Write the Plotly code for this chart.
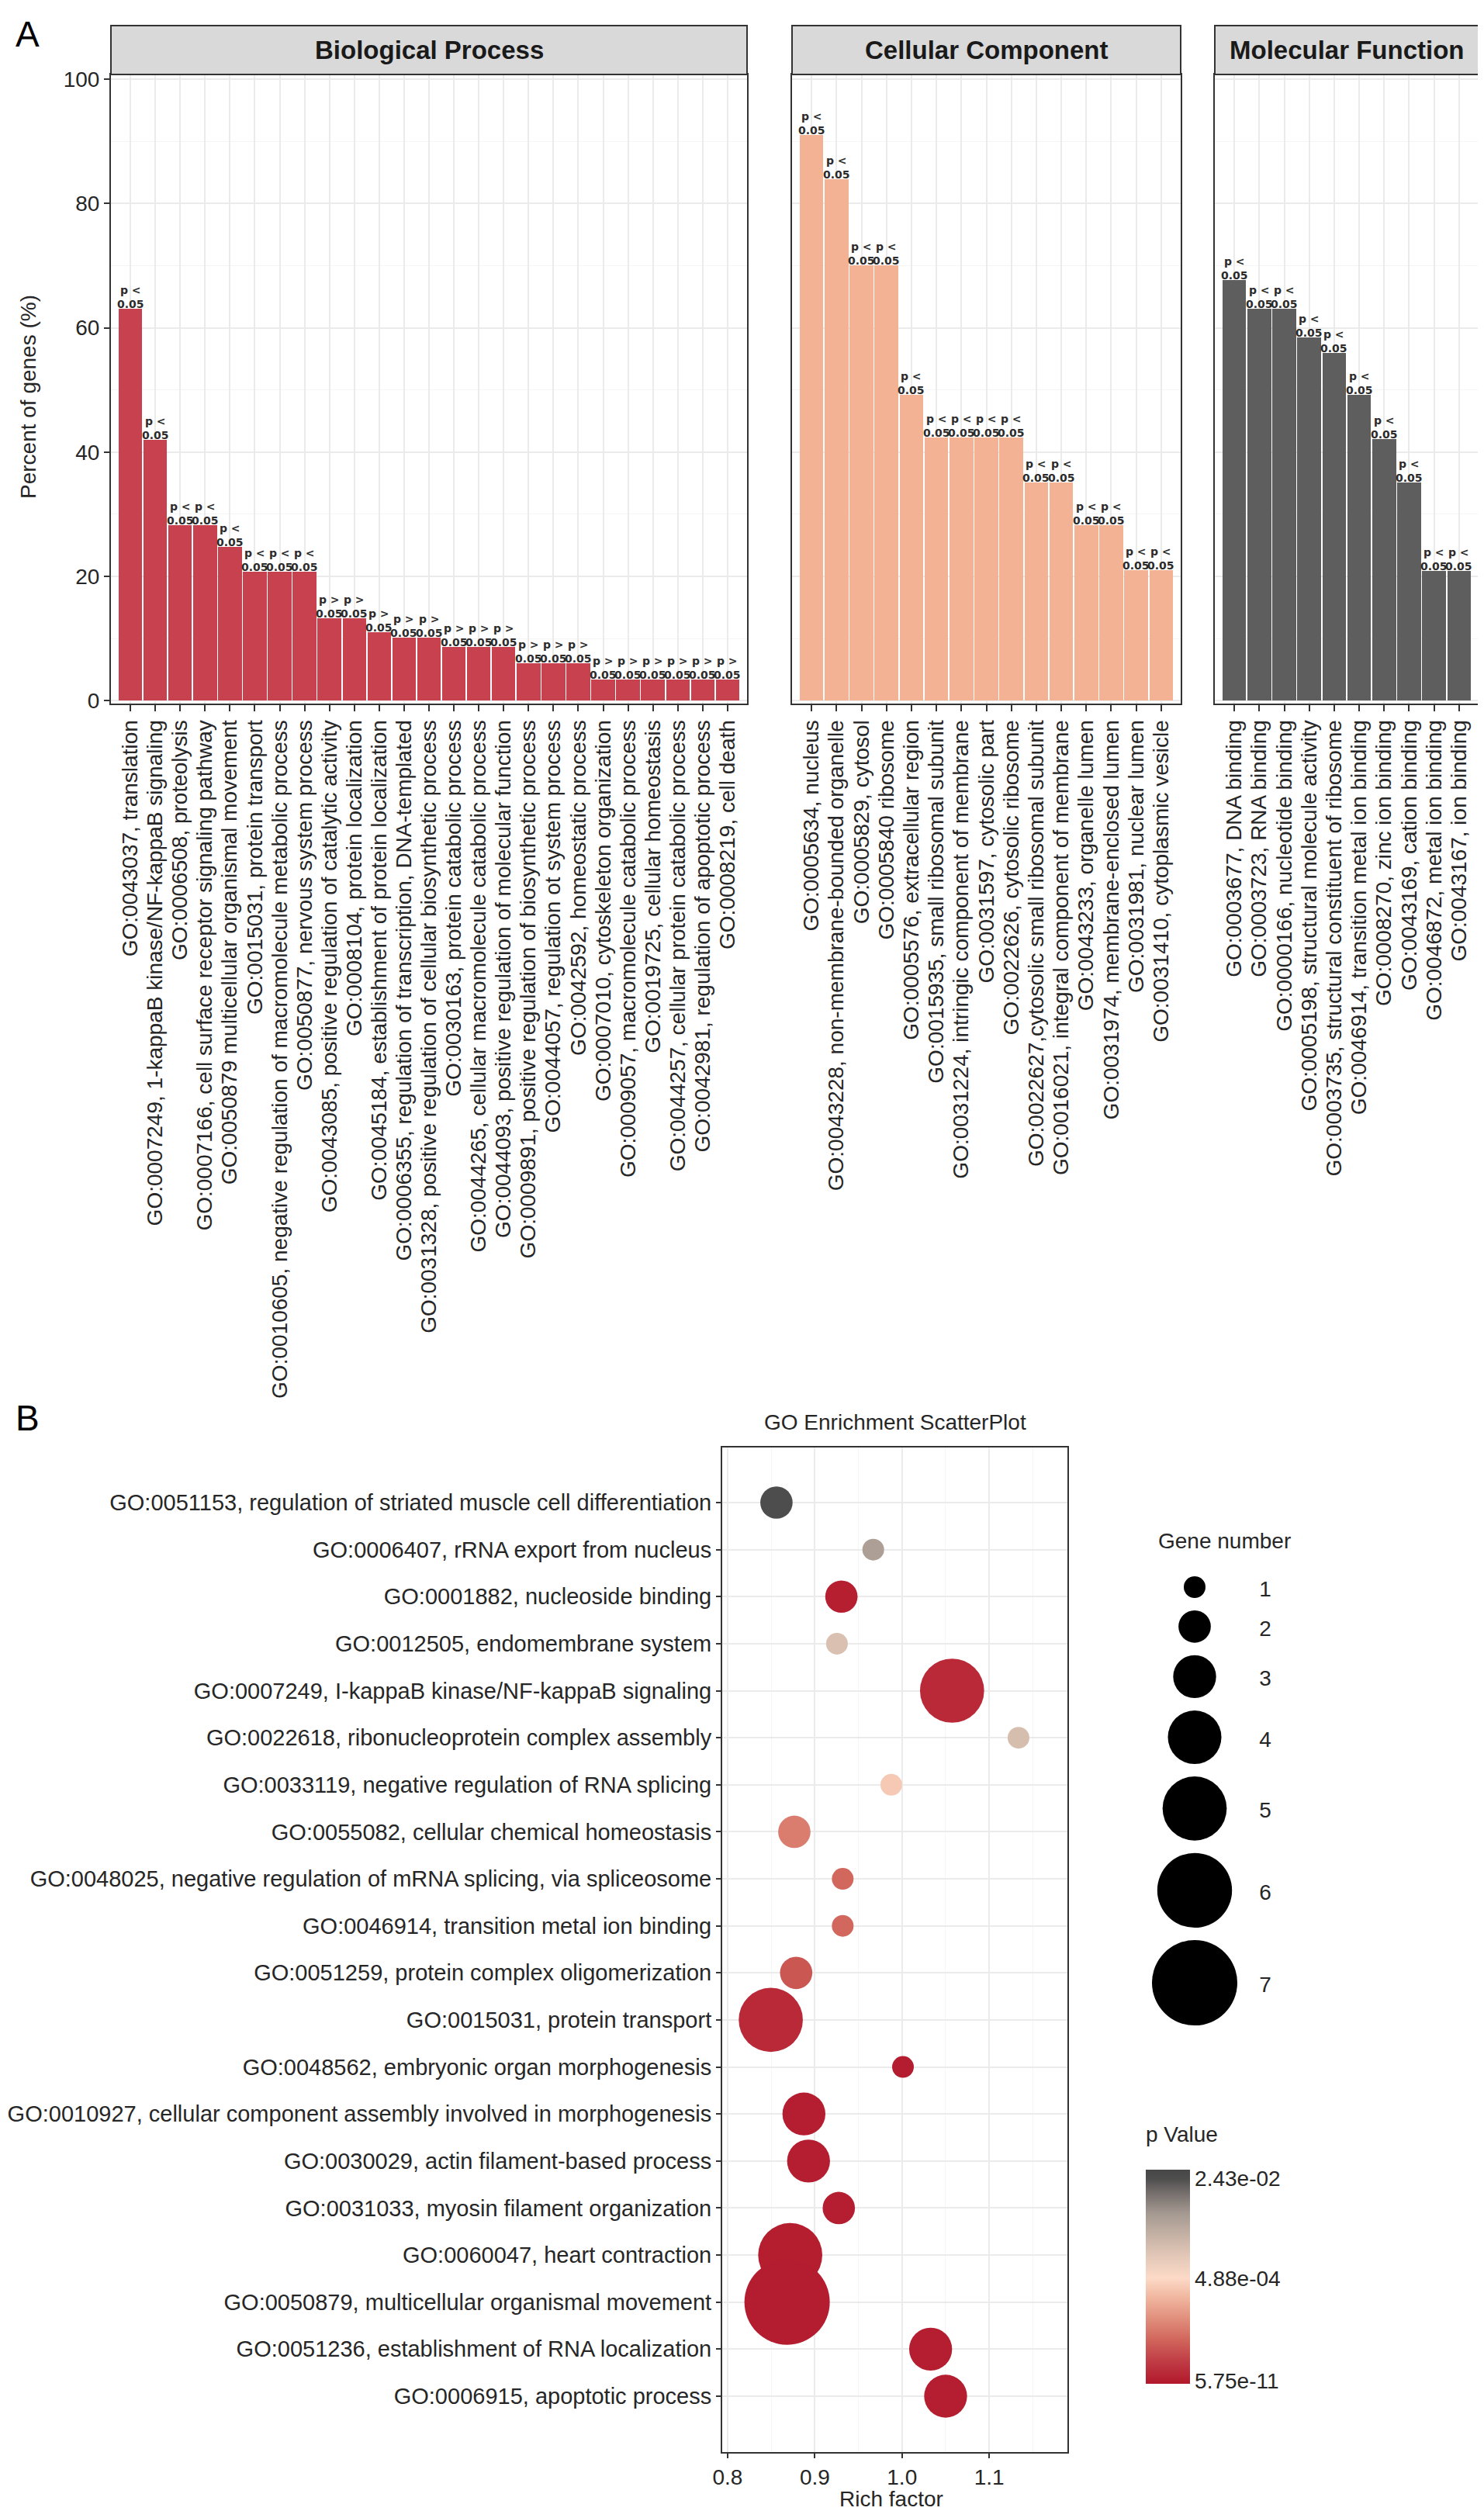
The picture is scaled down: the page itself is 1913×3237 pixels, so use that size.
import math
import plotly.graph_objects as go

W, H = 1913, 3237

# ---------------- Panel A data ----------------
bp_terms = [
    "GO:0043037, translation",
    "GO:0007249, 1-kappaB kinase/NF-kappaB signaling",
    "GO:0006508, proteolysis",
    "GO:0007166, cell surface receptor signaling pathway",
    "GO:0050879 multicellular organismal movement",
    "GO:0015031, protein transport",
    "GO:0010605, negative regulation of macromolecule metabolic process",
    "GO:0050877, nervous system process",
    "GO:0043085, positive regulation of catalytic activity",
    "GO:0008104, protein localization",
    "GO:0045184, establishment of protein localization",
    "GO:0006355, regulation of transcription, DNA-templated",
    "GO:0031328, positive regulation of cellular biosynthetic process",
    "GO:0030163, protein catabolic process",
    "GO:0044265, cellular macromolecule catabolic process",
    "GO:0044093, positive regulation of molecular function",
    "GO:0009891, positive regulation of biosynthetic process",
    "GO:0044057, regulation ot system process",
    "GO:0042592, homeostatic process",
    "GO:0007010, cytoskeleton organization",
    "GO:0009057, macromolecule catabolic process",
    "GO:0019725, cellular homeostasis",
    "GO:0044257, cellular protein catabolic process",
    "GO:0042981, regulation of apoptotic process",
    "GO:0008219, cell death",
]
bp_percent = [63.1, 42.0, 28.2, 28.2, 24.7, 20.8, 20.8, 20.8, 13.3, 13.3,
              11.0, 10.1, 10.1, 8.7, 8.7, 8.7, 6.0, 6.0, 6.0,
              3.4, 3.4, 3.4, 3.4, 3.4, 3.4]
bp_sig = ["<"] * 8 + [">"] * 17

cc_terms = [
    "GO:0005634, nucleus",
    "GO:0043228, non-membrane-bounded organelle",
    "GO:0005829, cytosol",
    "GO:0005840 ribosome",
    "GO:0005576, extracellular region",
    "GO:0015935, small ribosomal subunit",
    "GO:0031224, intringic component of membrane",
    "GO:0031597, cytosolic part",
    "GO:0022626, cytosolic ribosome",
    "GO:0022627,cytosolic small ribosomal subunit",
    "GO:0016021, integral component of membrane",
    "GO:0043233, organelle lumen",
    "GO:0031974, membrane-enclosed lumen",
    "GO:0031981, nuclear lumen",
    "GO:0031410, cytoplasmic vesicle",
]
cc_percent = [91.0, 83.9, 70.0, 70.0, 49.2, 42.3, 42.3, 42.3, 42.3,
              35.1, 35.1, 28.2, 28.2, 21.0, 21.0]
cc_sig = ["<"] * 15

mf_terms = [
    "GO:0003677, DNA binding",
    "GO:0003723, RNA binding",
    "GO:0000166, nucleotide binding",
    "GO:0005198, structural molecule activity",
    "GO:0003735, structural constituent of ribosome",
    "GO:0046914, transition metal ion binding",
    "GO:0008270, zinc ion binding",
    "GO:0043169, cation binding",
    "GO:0046872, metal ion binding",
    "GO:0043167, ion binding",
]
mf_percent = [67.7, 63.1, 63.1, 58.4, 56.0, 49.2, 42.1, 35.1, 20.9, 20.9]
mf_sig = ["<"] * 10

panel_titles = ["Biological Process", "Cellular Component", "Molecular Function"]
y_ticks_a = [0, 20, 40, 60, 80, 100]

# ---------------- Panel B data ----------------
sc_terms = [
    "GO:0051153, regulation of striated muscle cell differentiation",
    "GO:0006407, rRNA export from nucleus",
    "GO:0001882, nucleoside binding",
    "GO:0012505, endomembrane system",
    "GO:0007249, I-kappaB kinase/NF-kappaB signaling",
    "GO:0022618, ribonucleoprotein complex assembly",
    "GO:0033119, negative regulation of RNA splicing",
    "GO:0055082, cellular chemical homeostasis",
    "GO:0048025, negative regulation of mRNA splicing, via spliceosome",
    "GO:0046914, transition metal ion binding",
    "GO:0051259, protein complex oligomerization",
    "GO:0015031, protein transport",
    "GO:0048562, embryonic organ morphogenesis",
    "GO:0010927, cellular component assembly involved in morphogenesis",
    "GO:0030029, actin filament-based process",
    "GO:0031033, myosin filament organization",
    "GO:0060047, heart contraction",
    "GO:0050879, multicellular organismal movement",
    "GO:0051236, establishment of RNA localization",
    "GO:0006915, apoptotic process",
]
sc_rich = [0.856, 0.967, 0.9305, 0.9254, 1.0574, 1.1336, 0.9877, 0.8765, 0.932, 0.932,
           0.8786, 0.8495, 1.0011, 0.8875, 0.8928, 0.9275, 0.8718, 0.8682, 1.0328, 1.050]
sc_genes = [2, 1, 2, 1, 5, 1, 1, 2, 1, 1, 2, 5, 1, 3, 3, 2, 5, 7, 3, 3]
sc_pvalue = [2.43e-02, 4.95e-03, 6.9e-11, 1.53e-03, 1.88e-10, 1.67e-03, 1.16e-04,
             2.06e-07, 3.9e-08, 3.9e-08, 1.03e-08, 1.88e-10, 6.0e-11, 6.5e-11,
             6.5e-11, 6.5e-11, 6.2e-11, 5.75e-11, 6.5e-11, 6.5e-11]
gene_levels = [1, 2, 3, 4, 5, 6, 7]
p_labels = ["5.75e-11", "4.88e-04", "2.43e-02"]
rich_ticks = [0.8, 0.9, 1.0, 1.1]

# ---------------- helpers ----------------
def fx(px):
    return px / W


def fy(py):
    return 1 - py / H


FONT = "Liberation Sans"
TXT = "#262626"
GRID = "#EBEBEB"
GRID_MINOR = "#F5F5F5"
BORDER = "#333333"

P_ANCH = [float(s) for s in p_labels]
T_ANCH = [0.0145, 0.493, 0.96]


def p_to_t(p):
    lp = math.log10(p)
    l0, lm, l1 = (math.log10(v) for v in P_ANCH)
    if lp <= lm:
        return T_ANCH[0] + (lp - l0) / (lm - l0) * (T_ANCH[1] - T_ANCH[0])
    return T_ANCH[1] + (lp - lm) / (l1 - lm) * (T_ANCH[2] - T_ANCH[1])


def diam(n):
    return 28.0 + (n - 1) * 13.67


colorscale = [
    [0.0, "#B2182B"], [0.1, "#BF3A44"], [0.2, "#D0635A"], [0.3, "#E08D7B"],
    [0.4, "#F0B59E"], [0.493, "#FCDAC7"], [0.6, "#E2C7B7"], [0.7, "#C3B0A4"],
    [0.8, "#A39890"], [0.9, "#706A68"], [0.96, "#4D4D4D"], [1.0, "#474747"],
]

fig = go.Figure()
annotations = []
shapes = []

# ---------------- Panel A ----------------
panels = [
    (bp_terms, bp_percent, bp_sig, "#C8414F", 135, 955),
    (cc_terms, cc_percent, cc_sig, "#F4B294", 1013, 1514),
    (mf_terms, mf_percent, mf_sig, "#5E5E5E", 1558, 1898),
]
A_TOP, A_BOT, STRIP_TOP = 88, 899, 25
m = 0.78
layout_axes = {}
for i, (terms, vals, sig, col, x0, x1) in enumerate(panels):
    k = "" if i == 0 else str(i + 1)
    fig.add_trace(go.Bar(x=terms, y=vals, marker=dict(color=col, line=dict(width=0)),
                         width=0.95, xaxis="x" + k, yaxis="y" + k, showlegend=False,
                         hoverinfo="x+y"))
    layout_axes["xaxis" + k] = dict(
        domain=[fx(x0), fx(x1)], anchor="y" + k, type="category",
        categoryorder="array", categoryarray=terms,
        tickmode="array", tickvals=terms, ticktext=terms,
        range=[-m, len(terms) - 1 + m], tickangle=-90,
        tickfont=dict(family=FONT, size=28, color=TXT),
        ticks="outside", ticklen=8, tickwidth=2, tickcolor=BORDER,
        showline=True, mirror=True, linecolor=BORDER, linewidth=2,
        showgrid=True, gridcolor=GRID, gridwidth=2, automargin=False, zeroline=False,
    )
    layout_axes["yaxis" + k] = dict(
        domain=[fy(A_BOT), fy(A_TOP)], anchor="x" + k, range=[-0.45, 100.75],
        tickvals=y_ticks_a, showticklabels=(i == 0),
        ticks="outside" if i == 0 else "", ticklen=7, tickwidth=2, tickcolor=BORDER,
        tickfont=dict(family=FONT, size=28, color=TXT),
        showline=True, mirror=True, linecolor=BORDER, linewidth=2,
        showgrid=True, gridcolor=GRID, gridwidth=2, zeroline=False, automargin=False,
        minor=dict(dtick=10, tick0=0, showgrid=True, gridcolor=GRID_MINOR, gridwidth=1),
    )
    # strip
    shapes.append(dict(type="rect", xref="paper", yref="paper", x0=fx(x0), x1=fx(x1),
                       y0=fy(A_TOP), y1=fy(STRIP_TOP), fillcolor="#D9D9D9",
                       line=dict(color=BORDER, width=2), layer="above"))
    annotations.append(dict(xref="paper", yref="paper", x=fx((x0 + x1) / 2),
                            y=fy((A_TOP + STRIP_TOP) / 2), text="<b>%s</b>" % panel_titles[i],
                            showarrow=False, xanchor="center", yanchor="middle",
                            font=dict(family=FONT, size=33, color="#1A1A1A")))
    # p labels
    for t, v, s in zip(terms, vals, sig):
        sym = "&lt;" if s == "<" else "&gt;"
        annotations.append(dict(xref="x" + k, yref="y" + k, x=t, y=v,
                                text="<b>p %s<br>0.05</b>" % sym, showarrow=False,
                                xanchor="center", yanchor="bottom", yshift=-3,
                                borderpad=0, align="center",
                                font=dict(family="DejaVu Sans", size=14, color="#2B2B2B")))

annotations.append(dict(xref="paper", yref="paper", x=fx(28), y=fy(504),
                        text="Percent of genes (%)", textangle=-90, showarrow=False,
                        xanchor="center", yanchor="middle",
                        font=dict(family=FONT, size=28, color=TXT)))
annotations.append(dict(xref="paper", yref="paper", x=fx(10), y=fy(36), text="A",
                        showarrow=False, xanchor="left", yanchor="middle",
                        font=dict(family=FONT, size=46, color="black")))

# ---------------- Panel B ----------------
S_L, S_R, S_T, S_B = 923, 1368, 1858, 3153
n_rows = len(sc_terms)
fig.add_trace(go.Scatter(
    x=sc_rich, y=sc_terms, mode="markers", xaxis="x4", yaxis="y4", showlegend=False,
    marker=dict(size=[diam(g) for g in sc_genes], sizemode="diameter", opacity=1,
                color=[p_to_t(p) for p in sc_pvalue], colorscale=colorscale,
                cmin=0, cmax=1, line=dict(width=0),
                showscale=True,
                colorbar=dict(x=fx(1469), xanchor="left", xpad=0, ypad=0,
                              y=fy((2789 + 3065) / 2), yanchor="middle",
                              thickness=57, thicknessmode="pixels",
                              len=276, lenmode="pixels", outlinewidth=0,
                              tickvals=T_ANCH, ticktext=p_labels, ticks="",
                              tickfont=dict(family=FONT, size=28, color=TXT))),
    customdata=sc_pvalue,
))
layout_axes["xaxis4"] = dict(
    domain=[fx(S_L), fx(S_R)], anchor="y4", range=[0.7938, 1.1897],
    tickvals=rich_ticks, ticktext=["%.1f" % v for v in rich_ticks],
    ticks="outside", ticklen=6, tickwidth=2, tickcolor=BORDER,
    tickfont=dict(family=FONT, size=28, color=TXT),
    showline=True, mirror=True, linecolor=BORDER, linewidth=2,
    showgrid=True, gridcolor=GRID, gridwidth=2, zeroline=False, automargin=False,
    minor=dict(tickvals=[0.85, 0.95, 1.05, 1.15], showgrid=True, gridcolor=GRID_MINOR,
               gridwidth=1),
)
layout_axes["yaxis4"] = dict(
    domain=[fy(S_B), fy(S_T)], anchor="x4", type="category",
    categoryorder="array", categoryarray=sc_terms,
    tickmode="array", tickvals=sc_terms, ticktext=sc_terms,
    range=[n_rows - 1 + 1.188, -1.171],
    ticks="outside", ticklen=6, tickwidth=2, tickcolor=BORDER,
    tickfont=dict(family=FONT, size=29, color=TXT),
    showline=True, mirror=True, linecolor=BORDER, linewidth=2,
    showgrid=True, gridcolor=GRID, gridwidth=2, zeroline=False, automargin=False,
)
annotations.append(dict(xref="paper", yref="paper", x=fx((S_L + S_R) / 2), y=fy(1825),
                        text="GO Enrichment ScatterPlot", showarrow=False,
                        xanchor="center", yanchor="middle",
                        font=dict(family=FONT, size=28, color=TXT)))
annotations.append(dict(xref="paper", yref="paper", x=fx(1141), y=fy(3213),
                        text="Rich factor", showarrow=False, xanchor="center", yanchor="middle",
                        font=dict(family=FONT, size=28, color=TXT)))
annotations.append(dict(xref="paper", yref="paper", x=fx(10), y=fy(1820), text="B",
                        showarrow=False, xanchor="left", yanchor="middle",
                        font=dict(family=FONT, size=46, color="black")))

# size legend (key drawn through the same size scale)
leg_y = []
yy = 2038.0
for i, n in enumerate(gene_levels):
    if i > 0:
        yy += (diam(gene_levels[i - 1]) + diam(n)) / 2 + 16
    leg_y.append(yy)
fig.add_trace(go.Scatter(x=[1532] * len(gene_levels), y=leg_y, mode="markers",
                         xaxis="x5", yaxis="y5", showlegend=False, hoverinfo="skip",
                         marker=dict(size=[diam(n) for n in gene_levels], color="black",
                                     opacity=1, line=dict(width=0))))
fig.add_trace(go.Scatter(x=[1623] * len(gene_levels), y=[v + 5 for v in leg_y],
                         mode="text", text=[str(n) for n in gene_levels],
                         textfont=dict(family=FONT, size=28, color=TXT),
                         xaxis="x5", yaxis="y5", showlegend=False, hoverinfo="skip"))
layout_axes["xaxis5"] = dict(domain=[0, 1], range=[0, W], visible=False, anchor="y5",
                             fixedrange=True)
layout_axes["yaxis5"] = dict(domain=[0, 1], range=[H, 0], visible=False, anchor="x5",
                             fixedrange=True)
annotations.append(dict(xref="paper", yref="paper", x=fx(1483), y=fy(1978),
                        text="Gene number", showarrow=False, xanchor="left", yanchor="middle",
                        font=dict(family=FONT, size=28, color=TXT)))
annotations.append(dict(xref="paper", yref="paper", x=fx(1467), y=fy(2743),
                        text="p Value", showarrow=False, xanchor="left", yanchor="middle",
                        font=dict(family=FONT, size=28, color=TXT)))

fig.update_layout(
    width=W, height=H, margin=dict(l=0, r=0, t=0, b=0, pad=0),
    paper_bgcolor="white", plot_bgcolor="rgba(0,0,0,0)",
    template="none", showlegend=False, bargap=0,
    annotations=annotations, shapes=shapes,
    font=dict(family=FONT, color=TXT),
    **layout_axes,
)

fig.write_html("out.html")
